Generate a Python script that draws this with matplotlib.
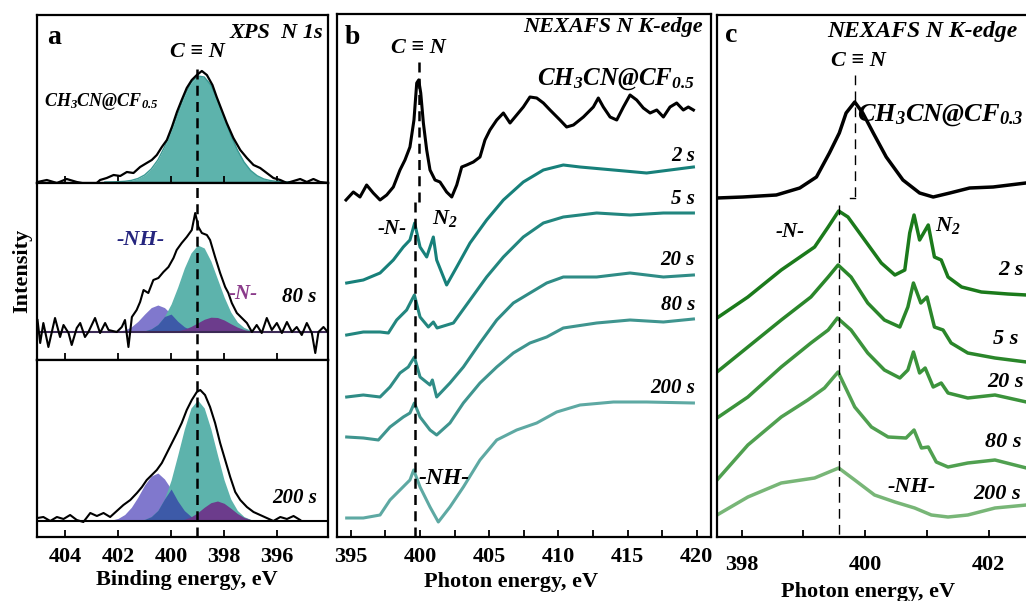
import numpy as np
import matplotlib
matplotlib.use("Agg")
import matplotlib.pyplot as plt

SERIF = ['Liberation Serif', 'DejaVu Serif']
plt.rcParams['font.family'] = SERIF
plt.rcParams['font.weight'] = 'bold'
plt.rcParams['mathtext.fontset'] = 'custom'
plt.rcParams['mathtext.rm'] = 'Liberation Serif:italic:bold'
plt.rcParams['mathtext.it'] = 'Liberation Serif:italic:bold'
plt.rcParams['mathtext.bf'] = 'Liberation Serif:italic:bold'

W, H = 1026, 601

# ---------------- panel a : XPS N 1s ----------------
xps_top_e = [405.04, 404.69, 404.31, 403.94, 403.56, 403.18, 402.93, 402.68, 402.43, 402.17,
             401.92, 401.67, 401.42, 401.17, 400.92, 400.73, 400.54, 400.35, 400.16, 399.97,
             399.78, 399.60, 399.41, 399.22, 399.03, 398.84, 398.65, 398.44, 398.28, 398.09,
             397.90, 397.65, 397.39, 397.14, 396.89, 396.64, 396.39, 396.14, 395.88, 395.63,
             395.38, 395.13, 394.88, 394.63, 394.38, 394.06]
xps_top_i = [0, 2, -1, 3, 0, -2, -4, 2, 4, 7,
             6, 10, 9, 15, 19, 22, 27, 35, 42, 55,
             70, 82, 94, 102, 107, 111, 107, 97, 85, 72,
             59, 44, 32, 24, 17, 14, 9, 4, 2, -1,
             1, 3, 0, 3, 0, -1]

xps_80_e = [405.04, 404.94, 404.82, 404.63, 404.38, 404.19, 404.06, 403.87, 403.75, 403.56,
            403.43, 403.25, 403.12, 402.87, 402.68, 402.49, 402.36, 402.05, 401.86, 401.74,
            401.61, 401.48, 401.30, 401.17, 401.04, 400.86, 400.67, 400.48, 400.29, 400.10,
            399.91, 399.79, 399.60, 399.41, 399.22, 399.09, 398.97, 398.84, 398.65, 398.53,
            398.34, 398.15, 397.96, 397.84, 397.71, 397.52, 397.33, 397.14, 396.95, 396.77,
            396.58, 396.39, 396.20, 396.01, 395.82, 395.63, 395.44, 395.26, 395.07, 394.88,
            394.69, 394.56, 394.44, 394.25, 394.06]
xps_80_i = [12, -11, 9, -15, 14, -5, 7, -1, -13, 4,
            9, -5, 0, 14, -1, 9, 2, 0, 5, 12,
            -15, 15, 22, 30, 42, 39, 52, 54, 60, 65,
            74, 82, 89, 95, 102, 119, 105, 99, 97, 92,
            75, 59, 45, 39, 29, 19, 14, 9, 0, 7,
            -1, 14, 2, 9, -1, 10, 0, 5, -3, 9,
            -1, -21, 0, 5, -1]

xps_200_e = [405.04, 404.82, 404.56, 404.31, 404.06, 403.81, 403.56, 403.31, 403.05, 402.80,
             402.55, 402.30, 402.05, 401.80, 401.54, 401.29, 401.10, 400.92, 400.73, 400.54,
             400.35, 400.16, 399.97, 399.78, 399.60, 399.41, 399.22, 399.03, 398.90, 398.72,
             398.53, 398.34, 398.15, 397.96, 397.77, 397.58, 397.39, 397.14, 396.89, 396.64,
             396.39, 396.14, 395.88, 395.63, 395.38, 395.13]
xps_200_i = [3, 4, 0, 4, 2, 6, 1, -1, 8, 5,
             8, 4, 10, 16, 21, 28, 34, 41, 46, 51,
             58, 68, 78, 88, 98, 111, 121, 129, 131, 126,
             114, 98, 78, 61, 44, 29, 21, 14, 9, 6,
             3, 0, 4, 2, 5, 1]

# fitted components (read on a 0.25 eV grid)
comp_e = [402.5, 402.25, 402.0, 401.75, 401.5, 401.25, 401.0, 400.75, 400.5, 400.25,
          400.0, 399.75, 399.5, 399.25, 399.0, 398.75, 398.5, 398.25, 398.0, 397.75,
          397.5, 397.25, 397.0, 396.75, 396.5, 396.25, 396.0, 395.75, 395.5]
top_cn = [0, 0.1, 0.3, 0.7, 1.6, 3.5, 7, 13, 22, 35, 51, 68, 86, 99, 106,
          105, 97, 82, 65, 47, 32, 20, 11.5, 6.2, 3, 1.4, 0.6, 0.2, 0.1]
s80_cn = [0, 0, 0, 0, 0.1, 0.4, 1.2, 3.2, 7.5, 15.5, 28, 45, 64, 79, 87,
          84, 71, 53, 35, 20, 10, 4.5, 1.8, 0.6, 0.2, 0, 0, 0, 0]
s80_nh = [0, 0.2, 0.7, 2.0, 5.2, 10.7, 17.9, 24.4, 27, 24.4, 17.9, 10.7, 5.2, 2.0, 0.7,
          0.2, 0, 0, 0, 0, 0, 0, 0, 0, 0, 0, 0, 0, 0]
s80_n = [0, 0, 0, 0, 0, 0, 0, 0, 0, 0, 0, 1.2, 2.8, 5.5, 9.1,
         12.7, 14.8, 14.5, 12.0, 8.3, 4.9, 2.4, 1.0, 0.3, 0.1, 0, 0, 0, 0]
s200_cn = [0, 0, 0, 0, 0.1, 0.5, 1.6, 4.4, 10.6, 22, 41, 66, 92, 113, 121,
           113, 92, 66, 41, 22, 10.6, 4.4, 1.6, 0.5, 0.1, 0, 0, 0, 0]
s200_nh = [0.2, 0.9, 2.6, 6.5, 13.7, 24, 36, 45, 48, 42, 32, 20, 10.4, 4.6, 1.7,
           0.5, 0, 0, 0, 0, 0, 0, 0, 0, 0, 0, 0, 0, 0]
s200_n = [0, 0, 0, 0, 0, 0, 0, 0, 0, 0, 0, 0, 1.6, 4.1, 8.3,
          13.7, 18.3, 20, 17.7, 12.8, 7.5, 3.6, 1.4, 0.4, 0.1, 0, 0, 0, 0]

# ---------------- panel b : NEXAFS, CF0.5 ----------------
b_ref_e = [394.66, 395.19, 395.67, 396.15, 396.63, 397.12, 397.60, 398.08, 398.56, 398.92,
           399.28, 399.57, 399.77, 399.91, 400.06, 400.25, 400.49, 400.73, 401.09, 401.45,
           401.93, 402.30, 402.66, 403.02, 403.38, 403.86, 404.34, 404.70, 405.06, 405.55,
           406.03, 406.51, 406.99, 407.47, 407.95, 408.44, 408.92, 409.40, 410.12, 410.60,
           411.09, 411.81, 412.53, 412.89, 413.25, 413.74, 414.22, 414.70, 415.18, 415.66,
           416.14, 416.63, 417.11, 417.59, 418.07, 418.55, 419.03, 419.39, 419.76]
b_ref_i = [337, 345, 340, 352, 344, 337, 342, 350, 367, 377,
           390, 417, 454, 457, 444, 414, 387, 367, 357, 355,
           345, 340, 352, 370, 372, 375, 380, 397, 407, 417,
           424, 414, 422, 430, 440, 439, 434, 427, 417, 410,
           412, 420, 430, 439, 430, 420, 417, 430, 442, 437,
           429, 424, 427, 420, 430, 434, 427, 430, 427]

b_2s_e = [394.71, 395.91, 397.12, 398.08, 398.80, 399.28, 399.62, 400.01, 400.49, 400.97,
          401.21, 401.93, 402.66, 403.62, 404.82, 406.03, 407.47, 408.92, 410.36, 411.57,
          413.98, 416.38, 418.07, 419.76]
b_2s_i = [254, 257, 264, 277, 290, 297, 314, 290, 280, 300, 277, 252, 270, 294, 317,
          337, 355, 367, 372, 370, 367, 364, 367, 370]
b_5s_e = [394.71, 395.91, 397.12, 397.72, 398.32, 399.04, 399.60, 400.01, 400.61, 400.97,
          401.24, 402.42, 403.62, 404.82, 406.03, 407.47, 408.92, 410.36, 412.77, 415.18,
          417.59, 419.76]
b_5s_i = [202, 205, 205, 204, 217, 227, 242, 220, 210, 215, 209, 214, 237, 260, 280,
          300, 314, 320, 324, 322, 324, 324]
b_20s_e = [394.71, 395.91, 397.12, 397.84, 398.56, 399.16, 399.60, 400.01, 400.73, 400.90,
           401.21, 402.17, 403.14, 404.34, 405.55, 406.75, 407.95, 409.16, 410.36, 412.77,
           415.18, 417.59, 419.76]
b_20s_i = [140, 142, 140, 150, 164, 170, 180, 160, 152, 157, 140, 154, 170, 194, 217,
           234, 244, 254, 260, 260, 264, 260, 262]
b_80s_e = [394.71, 395.91, 397.00, 397.84, 398.80, 399.28, 399.60, 400.01, 400.73, 401.21,
           402.17, 403.14, 404.34, 405.55, 406.75, 407.95, 409.16, 410.36, 412.77, 415.18,
           417.59, 419.76]
b_80s_i = [100, 99, 97, 110, 120, 124, 134, 120, 107, 102, 114, 134, 154, 170, 184,
           194, 200, 209, 214, 217, 215, 218]
b_200s_e = [394.71, 395.91, 397.12, 397.84, 398.56, 399.28, 399.55, 400.01, 400.73, 401.33,
            402.17, 403.14, 404.34, 405.55, 406.99, 408.44, 409.88, 411.57, 413.98, 416.38,
            419.76]
b_200s_i = [19, 19, 22, 37, 47, 57, 67, 50, 30, 15, 30, 50, 77, 97, 107, 114, 125, 132,
            135, 135, 134]

# ---------------- panel c : NEXAFS, CF0.3 ----------------
c_ref_e = [397.60, 398.02, 398.56, 398.94, 399.21, 399.42, 399.58, 399.69, 399.83, 399.96,
           400.13, 400.34, 400.61, 400.88, 401.10, 401.37, 401.69, 402.07, 402.60]
c_ref_i = [339, 340, 342, 349, 360, 384, 404, 424, 435, 424, 404, 380, 357, 344, 340,
           344, 349, 350, 354]
c_2s_e = [397.60, 398.10, 398.64, 399.18, 399.40, 399.57, 399.72, 399.99, 400.26, 400.48,
          400.64, 400.72, 400.79, 400.88, 401.02, 401.12, 401.23, 401.34, 401.56, 401.88,
          402.31, 402.61]
c_2s_i = [219, 240, 267, 290, 310, 326, 320, 297, 274, 262, 267, 304, 322, 297, 312,
          280, 277, 260, 250, 245, 243, 242]
c_5s_e = [397.60, 398.10, 398.64, 399.12, 399.40, 399.56, 399.77, 400.04, 400.31, 400.56,
          400.69, 400.78, 400.90, 401.00, 401.12, 401.26, 401.39, 401.66, 402.10, 402.61]
c_5s_i = [165, 190, 217, 240, 260, 272, 260, 234, 217, 210, 230, 254, 234, 240, 210,
          207, 194, 184, 179, 175]
c_20s_e = [397.60, 398.10, 398.64, 399.12, 399.40, 399.55, 399.77, 400.04, 400.31, 400.56,
           400.69, 400.78, 400.88, 400.97, 401.10, 401.23, 401.34, 401.66, 402.10, 402.61]
c_20s_i = [119, 140, 170, 194, 207, 219, 207, 184, 167, 159, 167, 185, 164, 169, 150,
           154, 144, 139, 142, 135]
c_80s_e = [397.60, 398.10, 398.64, 399.07, 399.34, 399.56, 399.83, 400.10, 400.37, 400.66,
           400.79, 400.91, 401.02, 401.15, 401.34, 401.66, 402.10, 402.61]
c_80s_i = [57, 92, 120, 137, 149, 165, 130, 110, 100, 99, 107, 89, 90, 75, 70, 74, 77, 69]
c_200s_e = [397.60, 398.10, 398.64, 399.18, 399.57, 399.83, 400.15, 400.48, 400.80, 401.07,
            401.34, 401.66, 402.10, 402.61]
c_200s_i = [22, 40, 54, 59, 69, 57, 42, 35, 29, 22, 20, 22, 29, 32]

time_labels = ['2 s', '5 s', '20 s', '80 s', '200 s']
teal_cols = ['#17807a', '#22867f', '#2f8c86', '#3f958f', '#5ea9a3']
green_cols = ['#1b7a1b', '#2a862a', '#3b933b', '#50a050', '#78b677']

TEAL = '#5db3ac'
LAV = '#8078cd'
PURP = '#9c5db0'
DKBLUE = '#3d5aa8'
DKPURP = '#6c3c8c'

fig = plt.figure(figsize=(W / 100, H / 100), dpi=100)


def axes_px(l, t, r, b):
    return fig.add_axes([l / W, 1 - b / H, (r - l) / W, (b - t) / H])


def txt(x, y, s, size, ha='center', va='center', color='k', style='italic', **kw):
    fig.text(x / W, 1 - y / H, s, fontsize=size, ha=ha, va=va, color=color,
             fontstyle=style, fontweight='bold', **kw)


def style_ax(ax, lw=1.6):
    for sp in ax.spines.values():
        sp.set_linewidth(lw)
    ax.set_yticks([])
    ax.tick_params(axis='x', which='both', direction='in', length=5, width=1.3,
                   labelsize=16, top=False)


# ---- panel a
a1 = axes_px(37, 15, 328, 183)
a2 = axes_px(37, 183, 328, 360)
a3 = axes_px(37, 360, 328, 537)
dash_a = (0, (4, 2.5))

for ax in (a1, a2, a3):
    style_ax(ax)
    ax.set_xlim(405.06, 394.08)
    ax.set_xticks([404, 402, 400, 398, 396])
a1.tick_params(labelbottom=False)
a2.tick_params(labelbottom=False)
a3.tick_params(pad=7)

a1.set_ylim(-1, 167)
a1.fill_between(comp_e, top_cn, color=TEAL, lw=0)
a1.plot(comp_e, top_cn, color='#3a9a94', lw=1)
a1.plot(xps_top_e, xps_top_i, color='k', lw=1.6)
a1.plot([399.02, 399.02], [113, -1], color='k', lw=1.8, ls=dash_a, zorder=5)

for ax, cn, nh, n, e, i, ylim, base in (
        (a2, s80_cn, s80_nh, s80_n, xps_80_e, xps_80_i, (-28, 149), '#3b2a55'),
        (a3, s200_cn, s200_nh, s200_n, xps_200_e, xps_200_i, (-16, 161), 'k')):
    ax.set_ylim(*ylim)
    ax.fill_between(comp_e, nh, color=LAV, lw=0)
    ax.fill_between(comp_e, n, color=PURP, lw=0)
    ax.fill_between(comp_e, cn, color=TEAL, lw=0)
    ax.fill_between(comp_e, np.minimum(cn, nh), color=DKBLUE, lw=0)
    ax.fill_between(comp_e, np.minimum(cn, n), color=DKPURP, lw=0)
    ax.axhline(0, color=base, lw=1.5)
    ax.plot(e, i, color='k', lw=1.5)
    ax.plot([399.02, 399.02], list(ylim), color='k', lw=1.8, ls=dash_a, zorder=5)

txt(47, 38, 'a', 20, ha='left', style='normal')
txt(323, 33, 'XPS  N 1s', 16, ha='right')
txt(197, 52, 'C ≡ N', 16)
txt(44, 106, r'CH$_3$CN@CF$_{0.5}$', 13, ha='left', va='baseline')
txt(141, 240, '-NH-', 16, color='#25257e')
txt(243, 294, '-N-', 15, color='#8a3a8a')
txt(316, 297, '80 s', 15, ha='right')
txt(317, 498, '200 s', 15, ha='right')
txt(22, 271, 'Intensity', 16, style='normal', rotation=90)
txt(187, 580, 'Binding energy, eV', 16, style='normal')

# ---- panel b
bx = axes_px(337, 14, 711, 537)
style_ax(bx)
bx.set_xlim(394.01, 421.03)
bx.set_ylim(0, 523)
bx.set_xticks([395, 400, 405, 410, 415, 420])
bx.set_xticks(np.arange(397.5, 420, 5), minor=True)
bx.tick_params(pad=7)
bx.plot(b_ref_e, b_ref_i, color='k', lw=2.2)
b_sets = [(b_2s_e, b_2s_i), (b_5s_e, b_5s_i), (b_20s_e, b_20s_i),
          (b_80s_e, b_80s_i), (b_200s_e, b_200s_i)]
for (e, i), col in zip(b_sets, teal_cols):
    bx.plot(e, i, color=col, lw=2.2)
bx.plot([399.91, 399.91], [475, 335], color='k', lw=1.8, ls=dash_a, zorder=5)
bx.plot([399.62, 399.62], [335, 0], color='k', lw=1.8, ls=dash_a, zorder=5)

txt(345, 37, 'b', 20, ha='left', style='normal')
txt(703, 27, 'NEXAFS N K-edge', 16, ha='right')
txt(418, 48, 'C ≡ N', 16)
txt(695, 85, r'CH$_3$CN@CF$_{0.5}$', 18, ha='right', va='baseline')
for lab, yy in zip(time_labels, [156, 199, 260, 305, 388]):
    txt(695, yy, lab, 15, ha='right')
txt(392, 229, '-N-', 15)
txt(432, 224, r'N$_2$', 16, ha='left', va='baseline')
txt(444, 478, '-NH-', 17)
txt(511, 582, 'Photon energy, eV', 16, style='normal')

# ---- panel c (right edge runs off the page)
cx = axes_px(717, 15, 1045, 537)
style_ax(cx)
cx.set_xlim(397.6, 402.91)
cx.set_ylim(0, 522)
cx.set_xticks([398, 400, 402])
cx.set_xticks([399, 401], minor=True)
cx.tick_params(pad=13)
cx.plot(c_ref_e, c_ref_i, color='k', lw=2.5)
c_sets = [(c_2s_e, c_2s_i), (c_5s_e, c_5s_i), (c_20s_e, c_20s_i),
          (c_80s_e, c_80s_i), (c_200s_e, c_200s_i)]
for (e, i), col in zip(c_sets, green_cols):
    cx.plot(e, i, color=col, lw=2.5)
dash_c = (0, (7, 4.5))
cx.plot([399.84, 399.84], [462, 339], color='k', lw=1, ls=dash_c)
cx.plot([399.75, 399.84], [339, 339], color='k', lw=1)
cx.plot([399.57, 399.57], [332, 0], color='k', lw=1, ls=dash_c)

txt(725, 35, 'c', 20, ha='left', style='normal')
txt(827, 31, 'NEXAFS N K-edge', 17, ha='left')
txt(858, 61, 'C ≡ N', 16)
txt(857, 121, r'CH$_3$CN@CF$_{0.3}$', 19, ha='left', va='baseline')
txt(790, 232, '-N-', 15)
txt(935, 231, r'N$_2$', 16, ha='left', va='baseline')
for lab, xx, yy in zip(time_labels, [998, 993, 987, 985, 973], [270, 339, 382, 442, 494]):
    txt(xx, yy, lab, 16, ha='left')
txt(912, 487, '-NH-', 16)
txt(868, 592, 'Photon energy, eV', 16, style='normal')

fig.savefig('out.png', dpi=100)
